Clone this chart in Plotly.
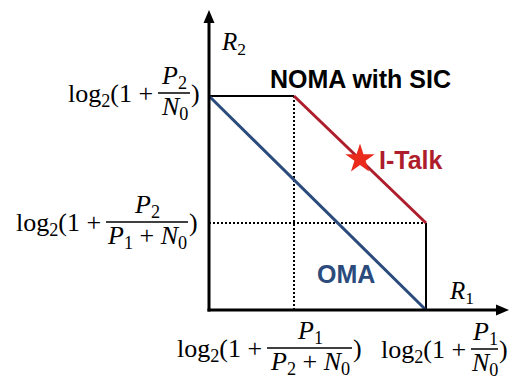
import plotly.graph_objects as go

# Achievable rates (bits/s/Hz) of the two users
r1_ticks = [0.85, 2.17]   # log2(1+P1/(P2+N0)), log2(1+P1/N0)
r2_ticks = [0.87, 2.14]   # log2(1+P2/(P1+N0)), log2(1+P2/N0)
italk_r1 = [1.51]
italk_r2 = [1.51]
axis_max = [3.0, 3.0]

# Tick label pieces: log2(1 + num/den)
tick_prefix = "log<sub>2</sub>(1 +"
x_tick_num = ["<i>P</i><sub>1</sub>", "<i>P</i><sub>1</sub>"]
x_tick_den = ["<i>P</i><sub>2</sub> + <i>N</i><sub>0</sub>", "<i>N</i><sub>0</sub>"]
y_tick_num = ["<i>P</i><sub>2</sub>", "<i>P</i><sub>2</sub>"]
y_tick_den = ["<i>P</i><sub>1</sub> + <i>N</i><sub>0</sub>", "<i>N</i><sub>0</sub>"]

RED = "#AE1D2B"
BLUE = "#2A4B7C"
STAR = "#EA2A1B"
SERIF = "Liberation Serif, Times New Roman, serif"
SANS = "Liberation Sans, Arial, sans-serif"

a, b = r1_ticks
c, d = r2_ticks
xmax, ymax = axis_max

fig = go.Figure()

# dotted guides
fig.add_trace(go.Scatter(x=[a, a], y=[0, d], mode="lines",
                         line=dict(color="black", width=2, dash="2px,2px")))
fig.add_trace(go.Scatter(x=[0, b], y=[c, c], mode="lines",
                         line=dict(color="black", width=2, dash="2px,2px")))
# NOMA with SIC region boundary
fig.add_trace(go.Scatter(x=[0, a], y=[d, d], mode="lines",
                         line=dict(color="black", width=2)))
fig.add_trace(go.Scatter(x=[b, b], y=[c, 0], mode="lines",
                         line=dict(color="black", width=2)))
fig.add_trace(go.Scatter(x=[a, b], y=[d, c], mode="lines",
                         line=dict(color=RED, width=3)))
# OMA time-sharing line
fig.add_trace(go.Scatter(x=[0, b], y=[d, 0], mode="lines",
                         line=dict(color=BLUE, width=3)))
# I-Talk operating point
fig.add_trace(go.Scatter(x=italk_r1, y=italk_r2, mode="markers",
                         marker=dict(symbol="star", size=22, color=STAR,
                                     line=dict(width=0))))

shapes = []
annotations = []

# axes with arrowheads
shapes.append(dict(type="line", xref="x", yref="y", x0=0, x1=0, y0=-0.015,
                   y1=ymax - 0.1, line=dict(color="black", width=3)))
shapes.append(dict(type="line", xref="x", yref="y", x0=-0.015, x1=xmax - 0.1,
                   y0=0, y1=0, line=dict(color="black", width=3)))
shapes.append(dict(type="path", xref="x", yref="y",
                   xsizemode="pixel", xanchor=0, ysizemode="pixel", yanchor=ymax,
                   path="M 0,0 L -5.5,-13 L 5.5,-13 Z",
                   fillcolor="black", line=dict(width=0)))
shapes.append(dict(type="path", xref="x", yref="y",
                   xsizemode="pixel", xanchor=xmax, ysizemode="pixel", yanchor=0,
                   path="M 0,0 L -13,5.5 L -13,-5.5 Z",
                   fillcolor="black", line=dict(width=0)))


def serif_text(x, y, text, xshift, yshift, xanchor, size=26):
    annotations.append(dict(x=x, y=y, xref="x", yref="y", text=text,
                            showarrow=False, xanchor=xanchor, yanchor="middle",
                            xshift=xshift, yshift=yshift, borderpad=0,
                            font=dict(family=SERIF, size=size, color="black")))


def frac_label(xv, yv, dx, dy, w, num, den):
    # fraction bar, pixel offsets relative to the data anchor
    shapes.append(dict(type="line", xref="x", yref="y",
                       xsizemode="pixel", xanchor=xv, x0=dx, x1=dx + w,
                       ysizemode="pixel", yanchor=yv, y0=dy, y1=dy,
                       line=dict(color="black", width=1.5)))
    serif_text(xv, yv, tick_prefix, dx - 4, dy - 2, "right")
    serif_text(xv, yv, num, dx + w / 2, dy + 16, "center")
    serif_text(xv, yv, den, dx + w / 2, dy - 15, "center")
    serif_text(xv, yv, ")", dx + w, dy, "left")


frac_label(0, c, -103, 1, 82, y_tick_num[0], y_tick_den[0])
frac_label(0, d, -51, 3, 32, y_tick_num[1], y_tick_den[1])
frac_label(a, 0, -27, -38, 85, x_tick_num[0], x_tick_den[0])
frac_label(b, 0, 45, -39, 27, x_tick_num[1], x_tick_den[1])

# axis titles
serif_text(0, ymax, "<i>R</i><sub>2</sub>", 24, -33, "center", 25)
serif_text(xmax, 0, "<i>R</i><sub>1</sub>", -48, 18, "center", 25)

# scheme labels
annotations.append(dict(x=(a + b) / 2, y=d, xref="x", yref="y",
                        text="<b>NOMA with SIC</b>", showarrow=False,
                        xanchor="center", yanchor="middle", yshift=17,
                        font=dict(family=SANS, size=25, color="black")))
annotations.append(dict(x=italk_r1[0], y=italk_r2[0], xref="x", yref="y",
                        text="<b>I-Talk</b>", showarrow=False,
                        xanchor="left", yanchor="middle", xshift=17, yshift=-1,
                        font=dict(family=SANS, size=25, color=RED)))
annotations.append(dict(x=b, y=0, xref="x", yref="y",
                        text="<b>OMA</b>", showarrow=False,
                        xanchor="center", yanchor="middle", xshift=-80, yshift=36,
                        font=dict(family=SANS, size=25, color=BLUE)))

fig.update_layout(
    width=517, height=381,
    margin=dict(l=0, r=0, t=0, b=0, pad=0),
    paper_bgcolor="white", plot_bgcolor="white",
    showlegend=False,
    xaxis=dict(range=[-2.09, 3.08], visible=False, fixedrange=True),
    yaxis=dict(range=[-0.71, 3.10], visible=False, fixedrange=True),
    shapes=shapes,
    annotations=annotations,
)

fig.write_html("out.html")
